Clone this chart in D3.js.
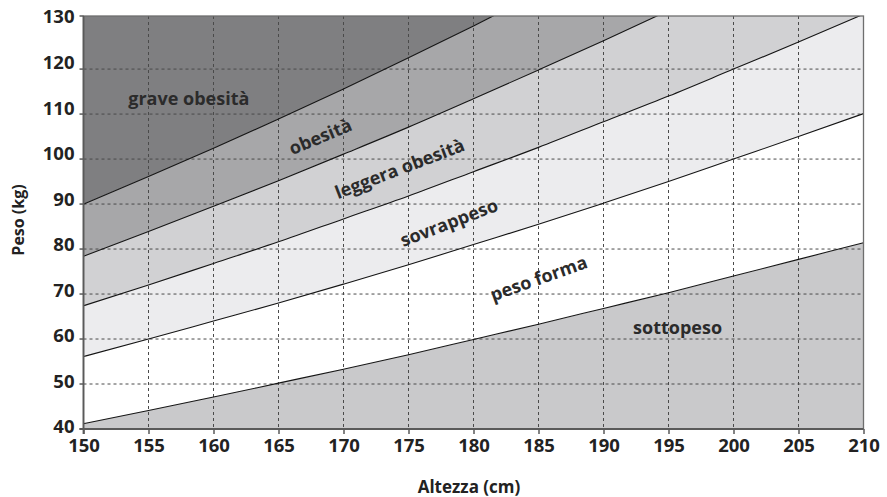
<!DOCTYPE html>
<html><head><meta charset="utf-8">
<script src="https://cdn.jsdelivr.net/npm/d3@7"></script>
<style>body{margin:0;background:#fff}</style></head>
<body><svg id="c" width="887" height="497"></svg>
<script>
// Heights (cm) along the x axis
const heights = [150, 155, 160, 165, 170, 175, 180, 185, 190, 195, 200, 205, 210];
// Upper weight limits (kg) of each zone
const sottopesoMax   = [41.2, 44.1, 47.1, 50.2, 53.3, 56.5, 59.9, 63.3, 66.8, 70.3, 74.0, 77.7, 81.4];
const pesoFormaMax   = [56.1, 60.0, 64.0, 68.0, 72.2, 76.5, 81.0, 85.5, 90.2, 95.0, 100.0, 105.0, 110.1];
const sovrappesoMax  = [67.4, 72.0, 76.8, 81.6, 86.7, 91.8, 97.2, 102.6, 108.3, 114.0, 120.0, 126.0, 132.2];
const leggeraMax     = [78.4, 83.9, 89.5, 95.2, 101.1, 107.1, 113.4, 119.8, 126.3, 133.0, 140.0, 147.0, 154.3];
const obesitaMax     = [90.0, 96.1, 102.4, 108.9, 115.6, 122.5, 129.6, 136.9, 144.4, 152.1, 160.0, 168.1, 176.4];
const xTicks = [150, 155, 160, 165, 170, 175, 180, 185, 190, 195, 200, 205, 210];
const yTicks = [40, 50, 60, 70, 80, 90, 100, 110, 120, 130];
const zoneNames = ["sottopeso", "peso forma", "sovrappeso", "leggera obesità", "obesità", "grave obesità"];
const zoneColors = ["#c9c9cb", "#ffffff", "#ececee", "#d1d1d3", "#a7a7a9", "#7f7f81"];

const svg = d3.select("#c");
const L = 83.5, R = 863.5, T = 16, B = 429;
const yMaxVal = 131.8;
const x = d3.scaleLinear([150, 210], [L, R]);
const y = d3.scaleLinear([40, yMaxVal], [B, T]);
const yLab = d3.scaleLinear([40, 130], [427, 17]);

svg.append("rect").attr("width", 887).attr("height", 497).attr("fill", "#fff");

const defs = svg.append("defs");
defs.append("clipPath").attr("id", "plotclip").append("rect")
  .attr("x", L).attr("y", T).attr("width", R - L).attr("height", B - T);

const floorArr = heights.map(() => 40);
const ceilArr = heights.map(() => yMaxVal + 60);
const bounds = [floorArr, sottopesoMax, pesoFormaMax, sovrappesoMax, leggeraMax, obesitaMax, ceilArr];

const g = svg.append("g").attr("clip-path", "url(#plotclip)");
const idx = d3.range(heights.length);
for (let z = 0; z < 6; z++) {
  const lo = bounds[z], hi = bounds[z + 1];
  const area = d3.area()
    .x(i => x(heights[i]))
    .y0(i => y(lo[i]))
    .y1(i => y(hi[i]))
    .curve(d3.curveMonotoneX);
  g.append("path").attr("d", area(idx)).attr("fill", zoneColors[z]);
}

// grid
const gridV = xTicks.filter(v => v > 150 && v < 210);
const gridH = yTicks.filter(v => v > 40 && v < 130);
g.selectAll("line.gv").data(gridV).join("line")
  .attr("x1", d => x(d)).attr("x2", d => x(d)).attr("y1", T).attr("y2", B)
  .attr("stroke", "#4a4a4a").attr("stroke-width", 1).attr("stroke-dasharray", "3,3");
g.selectAll("line.gh").data(gridH).join("line")
  .attr("x1", L).attr("x2", R).attr("y1", d => y(d)).attr("y2", d => y(d))
  .attr("stroke", "#4a4a4a").attr("stroke-width", 1).attr("stroke-dasharray", "3,3");

// boundary curves
const line = d3.line().x(i => x(heights[i])).curve(d3.curveMonotoneX);
[sottopesoMax, pesoFormaMax, sovrappesoMax, leggeraMax, obesitaMax].forEach(arr => {
  g.append("path").attr("d", line.y(i => y(arr[i]))(idx))
    .attr("fill", "none").attr("stroke", "#151515").attr("stroke-width", 1.1);
});

// frame
svg.append("rect").attr("x", L).attr("y", T).attr("width", R - L).attr("height", B - T)
  .attr("fill", "none").attr("stroke", "#6e6e6e").attr("stroke-width", 1.3);
svg.append("line").attr("x1", L).attr("x2", L).attr("y1", T).attr("y2", B + 5)
  .attr("stroke", "#5a5a5a").attr("stroke-width", 1.8);
svg.append("line").attr("x1", L - 4).attr("x2", R).attr("y1", B).attr("y2", B)
  .attr("stroke", "#5a5a5a").attr("stroke-width", 1.8);

// tick marks on y
svg.selectAll("line.yt").data(yTicks.filter(v => v < 130)).join("line")
  .attr("x1", L - 4).attr("x2", L).attr("y1", d => y(d)).attr("y2", d => y(d))
  .attr("stroke", "#5a5a5a").attr("stroke-width", 1.5);
svg.append("line").attr("x1", L - 4).attr("x2", L).attr("y1", T).attr("y2", T)
  .attr("stroke", "#5a5a5a").attr("stroke-width", 1.5);

const font = "'Open Sans', sans-serif";
// y axis labels
const yAxis = svg.append("g").attr("transform", `translate(${L},0)`)
  .call(d3.axisLeft(yLab).tickValues(yTicks).tickSize(0).tickPadding(9).tickFormat(d3.format("d")));
yAxis.select(".domain").remove();
yAxis.selectAll("text").attr("font-family", font).attr("font-weight", 700)
  .attr("font-size", 18.5).attr("fill", "#222");

// x axis
const xAxis = svg.append("g").attr("transform", `translate(0,${B})`)
  .call(d3.axisBottom(x).tickValues(xTicks).tickSize(5).tickPadding(5).tickFormat(d3.format("d")));
xAxis.select(".domain").remove();
xAxis.selectAll("line").attr("stroke", "#5a5a5a").attr("stroke-width", 1.5);
xAxis.selectAll("text").attr("font-family", font).attr("font-weight", 700)
  .attr("font-size", 18.5).attr("fill", "#222");

// axis titles
svg.append("text").attr("x", 469).attr("y", 486).attr("text-anchor", "middle")
  .attr("dominant-baseline", "central").attr("font-family", font).attr("font-weight", 700)
  .attr("font-size", 17).attr("fill", "#222").text("Altezza (cm)");
svg.append("text").attr("transform", "translate(18,220) rotate(-90)").attr("text-anchor", "middle")
  .attr("dominant-baseline", "central").attr("font-family", font).attr("font-weight", 700)
  .attr("font-size", 16).attr("fill", "#222").text("Peso (kg)");

// zone labels: [name index, height, weight, angle]
const labelPos = [
  [0, 195.7, 62.7, 0],
  [1, 185.0, 73.6, -19.5],
  [2, 178.1, 86.0, -21],
  [3, 174.3, 98.0, -21],
  [4, 168.2, 105.1, -22.5],
  [5, 158.1, 113.6, 0]
];
labelPos.forEach(([k, hx, wy, a]) => {
  svg.append("text")
    .attr("transform", `translate(${x(hx)},${y(wy)}) rotate(${a})`)
    .attr("text-anchor", "middle").attr("dominant-baseline", "central")
    .attr("font-family", font).attr("font-weight", 700).attr("font-size", 18)
    .attr("fill", "#2b2b2b").text(zoneNames[k]);
});
</script>
</body></html>
